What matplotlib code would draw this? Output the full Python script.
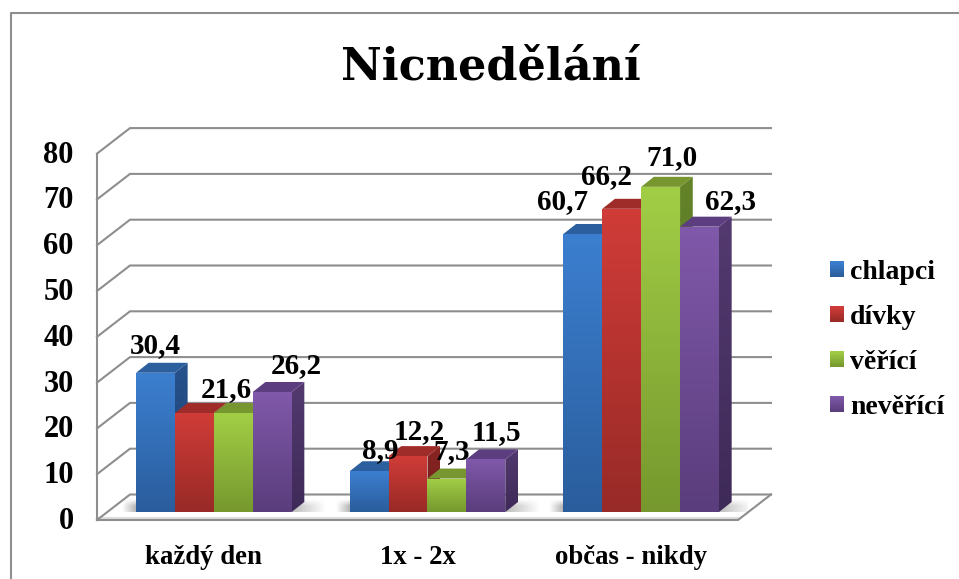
import numpy as np
import matplotlib
matplotlib.use("Agg")
import matplotlib.pyplot as plt
from matplotlib.colors import LinearSegmentedColormap, to_rgb
from matplotlib.lines import Line2D
from matplotlib.patches import Polygon, Rectangle, Patch
from matplotlib.legend_handler import HandlerBase
from matplotlib.transforms import ScaledTranslation

# ---- data ----
title = "Nicnedělání"
categories = ["každý den", "1x - 2x", "občas - nikdy"]
series = ["chlapci", "dívky", "věřící", "nevěřící"]
chlapci = [30.4, 8.9, 60.7]
divky = [21.6, 12.2, 66.2]
verici = [21.6, 7.3, 71.0]
neverici = [26.2, 11.5, 62.3]
y_ticks = [0, 10, 20, 30, 40, 50, 60, 70, 80]
labels = [["30,4", "8,9", "60,7"], [None, "12,2", "66,2"],
          ["21,6", "7,3", "71,0"], ["26,2", "11,5", "62,3"]]

# ---- style ----
label_nudges = [[(0, 27), (11, 21), (-20, 32)], [(0, 0), (11, 25), (-15, 32)],
                [(-7, 24), (5, 27), (11, 29)], [(24, 26), (11, 27), (31, 25)]]
front_cols = [("#3c7fd0", "#2a5d9c"), ("#d03c38", "#982a27"),
              ("#a2ce46", "#76982e"), ("#8059aa", "#5a3d7c")]
top_cols = ["#2c5f9e", "#a02c2a", "#77962f", "#5b3d80"]
side_cols = [("#27528c", "#1e4070"), ("#8a2523", "#6c1c1a"),
             ("#648429", "#4e6820"), ("#53396f", "#3e2a58")]
GRID = "#8e8e8e"
SERIF = "Liberation Serif"

W, H = 959, 579
fig = plt.figure(figsize=(W / 100, H / 100), dpi=100, facecolor="white")
L, R, B, T = 107, 748, 512, 145.6
ax = fig.add_axes([L / W, 1 - B / H, (R - L) / W, (B - T) / H])
ax.set_xlim(-0.5, 2.5)
ax.set_ylim(0, 80)
ax.autoscale(False)
ax.patch.set_visible(False)
for s in ax.spines.values():
    s.set_visible(False)

PX = 3 / (R - L)          # data x per pixel
PV = 80 / (B - T)         # data y per pixel


def gradient_poly(verts, c_top, c_bot, z):
    verts = np.asarray(verts)
    cmap = LinearSegmentedColormap.from_list("g", [c_top, c_bot])
    ext = (verts[:, 0].min(), verts[:, 0].max(), verts[:, 1].min(), verts[:, 1].max())
    im = ax.imshow(np.linspace(0, 1, 128)[:, None], cmap=cmap, extent=ext, aspect="auto",
                   origin="upper", zorder=z, interpolation="bilinear")
    im.set_clip_path(Polygon(verts, closed=True, transform=ax.transData))


def line(xs, ys, z=1, color=GRID, lw=1.5):
    ax.add_line(Line2D(xs, ys, color=color, lw=lw, zorder=z, clip_on=False,
                       solid_capstyle="projecting", solid_joinstyle="miter"))


# walls and floor
fx, fv = -10 * PX, -8 * PV      # front edge of floor, relative to the bar plane
bx, bv = 23 * PX, 17.5 * PV     # back wall, relative to the bar plane
for v in y_ticks:
    line([-0.5 + fx, -0.5 + bx, 2.5 + bx], [v + fv, v + bv, v + bv])
line([-0.5 + fx, -0.5 + fx], [y_ticks[0] + fv, y_ticks[-1] + fv])
line([-0.5 + fx, 2.5 + fx, 2.5 + bx], [fv, fv, bv])
line([-0.5 + fx, 2.5 + fx], [fv + 2 * PV, fv + 2 * PV], z=0.9, color="#dddddd", lw=1.5)

# bars
n = len(series)
bw = 38.9 * PX
ddx, ddv = 12.7 * PX, 10 * PV
all_vals = [chlapci, divky, verici, neverici]
z = 3
for g in range(len(categories)):
    # soft floor shadow of the group
    left = g - 2 * bw
    right = g + 2 * bw
    sv = np.array([(left - 14 * PX, -2 * PV), (right + 12 * PX, -2 * PV),
                   (right + 34 * PX, 13 * PV), (left + 4 * PX, 13 * PV)])
    u = np.linspace(0, 1, 256)
    t = np.linspace(0, 1, 48)
    ramp_x = np.clip(np.minimum(u / 0.08, (1 - u) / 0.22), 0, 1)
    ramp_y = np.clip(np.minimum(t / 0.45, (1 - t) / 0.15), 0, 1)
    rgba = np.zeros((48, 256, 4))
    rgba[..., :3] = 0.5
    rgba[..., 3] = np.outer(ramp_y, ramp_x) * 0.7
    ax.imshow(rgba, extent=(sv[:, 0].min(), sv[:, 0].max(), sv[:, 1].min(), sv[:, 1].max()),
              aspect="auto", zorder=2, interpolation="bilinear")
    for i in range(n):
        v = all_vals[i][g]
        x0 = g + (i - n / 2) * bw
        x1 = x0 + bw
        gradient_poly([(x1, 0), (x1 + ddx, ddv), (x1 + ddx, v + ddv), (x1, v)],
                      side_cols[i][0], side_cols[i][1], z)
        ax.add_patch(Polygon([(x0, v), (x1, v), (x1 + ddx, v + ddv), (x0 + ddx, v + ddv)],
                             closed=True, fc=top_cols[i], ec="none", zorder=z + 0.1))
        gradient_poly([(x0, 0), (x1, 0), (x1, v), (x0, v)],
                      front_cols[i][0], front_cols[i][1], z + 0.2)
        z += 1

# data labels
for i in range(n):
    for g in range(len(categories)):
        if labels[i][g] is None:
            continue
        v = all_vals[i][g]
        x = g + (i - n / 2 + 0.5) * bw
        dx, dy = label_nudges[i][g]
        ax.annotate(labels[i][g], (x, v), xytext=(dx * 0.72, dy * 0.72),
                    textcoords="offset points", ha="center", va="center",
                    fontsize=21, fontweight="bold", family=SERIF, color="black",
                    zorder=100, annotation_clip=False)

# axis labels
ax.set_yticks(y_ticks)
ax.set_yticklabels([str(t) for t in y_ticks], fontsize=22, fontweight="bold", family=SERIF)
ax.tick_params(axis="y", length=0, pad=24)
yshift = ScaledTranslation(0, -6 / 100, fig.dpi_scale_trans)
for lab in ax.get_yticklabels():
    lab.set_transform(lab.get_transform() + yshift)
ax.set_xticks(range(len(categories)))
ax.set_xticklabels(categories, fontsize=19.3, fontweight="bold", family=SERIF)
ax.tick_params(axis="x", length=0, pad=24)
shift = ScaledTranslation(-10 / 100, 0, fig.dpi_scale_trans)
for lab in ax.get_xticklabels():
    lab.set_transform(lab.get_transform() + shift)


# legend
class GradHandler(HandlerBase):
    def __init__(self, c_top, c_bot):
        super().__init__()
        self.c_top, self.c_bot = np.array(to_rgb(c_top)), np.array(to_rgb(c_bot))

    def create_artists(self, legend, orig, xd, yd, w, h, fs, trans):
        out = []
        k = 12
        for j in range(k):
            c = self.c_top + (self.c_bot - self.c_top) * (j / (k - 1))
            out.append(Rectangle((-xd, -yd + h * (k - 1 - j) / k), w, h / k + 0.1,
                                 fc=c, ec="none", transform=trans))
        return out


handles = [Patch(label=s) for s in series]
hmap = {h: GradHandler(*front_cols[i]) for i, h in enumerate(handles)}
fig.legend(handles=handles, handler_map=hmap, loc="upper left",
           bbox_to_anchor=(830 / W, 1 - 260 / H), bbox_transform=fig.transFigure,
           frameon=False, borderpad=0, borderaxespad=0,
           prop={"family": SERIF, "weight": "bold", "size": 20},
           handlelength=0.5, handleheight=0.5, handletextpad=0.23, labelspacing=0.72)

# outer frame, cut by the picture edges
fig.add_artist(Line2D([10.5 / W, 10.5 / W, 1], [0, 1 - 13 / H, 1 - 13 / H],
                      transform=fig.transFigure, color=GRID, lw=1.5))

fig.suptitle(title, x=491 / W, y=1 - 80 / H, va="baseline", ha="center",
             fontsize=32, fontweight="bold", family="DejaVu Serif")

fig.savefig("out.png", dpi=100)
